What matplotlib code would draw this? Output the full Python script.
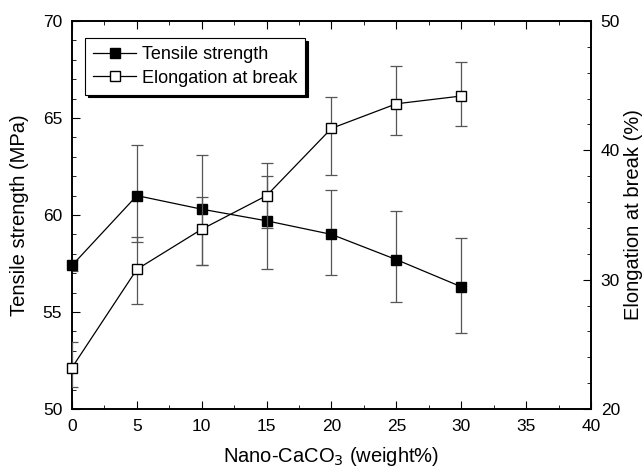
import matplotlib
matplotlib.use('Agg')
import matplotlib.pyplot as plt
from matplotlib.lines import Line2D
from matplotlib.ticker import MultipleLocator

plt.rcParams['font.family'] = ['Liberation Sans', 'DejaVu Sans']

# Filler content (weight%)
LOADING = [0, 5, 10, 15, 20, 25, 30]

# Tensile strength (MPa) with lower / upper error
TENSILE = [57.4, 61.0, 60.3, 59.7, 59.0, 57.7, 56.3]
TENSILE_LO = [0.3, 2.4, 2.9, 2.5, 2.1, 2.2, 2.4]
TENSILE_HI = [0.3, 2.6, 2.8, 2.3, 2.3, 2.5, 2.5]

# Elongation at break (%) with lower / upper error
ELONG = [23.2, 30.8, 33.9, 36.5, 41.7, 43.6, 44.2]
ELONG_LO = [1.5, 2.7, 2.8, 2.5, 3.6, 2.4, 2.3]
ELONG_HI = [2.0, 2.5, 2.5, 2.5, 2.4, 2.9, 2.6]

fig = plt.figure(figsize=(6.44, 4.70), dpi=100)
ax = fig.add_axes([0.1118, 0.1298, 0.8059, 0.8255])
ax2 = ax.twinx()

err_kw = dict(ecolor='#555555', elinewidth=0.9, capsize=4.5, capthick=0.9)

for a, y, lo, hi, fc in ((ax, TENSILE, TENSILE_LO, TENSILE_HI, 'black'),
                         (ax2, ELONG, ELONG_LO, ELONG_HI, 'white')):
    art = a.errorbar(LOADING, y, yerr=[lo, hi], color='black', lw=0.9,
                     marker='s', ms=6.5, mfc=fc, mec='black', zorder=3, **err_kw)
    art[0].set_clip_on(False)

ax.set_xlim(0, 40)
ax.set_ylim(50, 70)
ax2.set_ylim(20, 50)

ax.xaxis.set_major_locator(MultipleLocator(5))
ax.xaxis.set_minor_locator(MultipleLocator(2.5))
ax.yaxis.set_major_locator(MultipleLocator(5))
ax.yaxis.set_minor_locator(MultipleLocator(1))
ax2.yaxis.set_major_locator(MultipleLocator(10))
ax2.yaxis.set_minor_locator(MultipleLocator(2))

ax.tick_params(which='both', direction='in', top=True, right=False, labelsize=12.5, pad=7)
ax.tick_params(which='major', length=6)
ax.tick_params(which='minor', length=3)
ax2.tick_params(which='both', direction='in', labelsize=12.5, pad=7)
ax2.tick_params(which='major', length=6)
ax2.tick_params(which='minor', length=3)

ax.set_xlabel('Nano-CaCO$_3$ (weight%)', fontsize=14.5, labelpad=8)
ax.set_ylabel('Tensile strength (MPa)', fontsize=14.5, labelpad=10)
ax2.set_ylabel('Elongation at break (%)', fontsize=14.5, labelpad=3)

for a in (ax, ax2):
    for s in a.spines.values():
        s.set_linewidth(1.2)

handles = [Line2D([], [], color='black', lw=0.9, marker='s', ms=6.5,
                  mfc='black', mec='black'),
           Line2D([], [], color='black', lw=0.9, marker='s', ms=6.5,
                  mfc='white', mec='black')]
leg = ax2.legend(handles, ['Tensile strength', 'Elongation at break'],
                 loc='upper left', bbox_to_anchor=(0.025, 0.956),
                 borderaxespad=0, fontsize=13, fancybox=False, frameon=True,
                 edgecolor='black', shadow={'color': 'black', 'alpha': 1},
                 borderpad=0.45, handlelength=2.4, handletextpad=0.3,
                 labelspacing=0.35)
leg.get_frame().set_linewidth(0.8)

fig.savefig('out.png', dpi=100)
